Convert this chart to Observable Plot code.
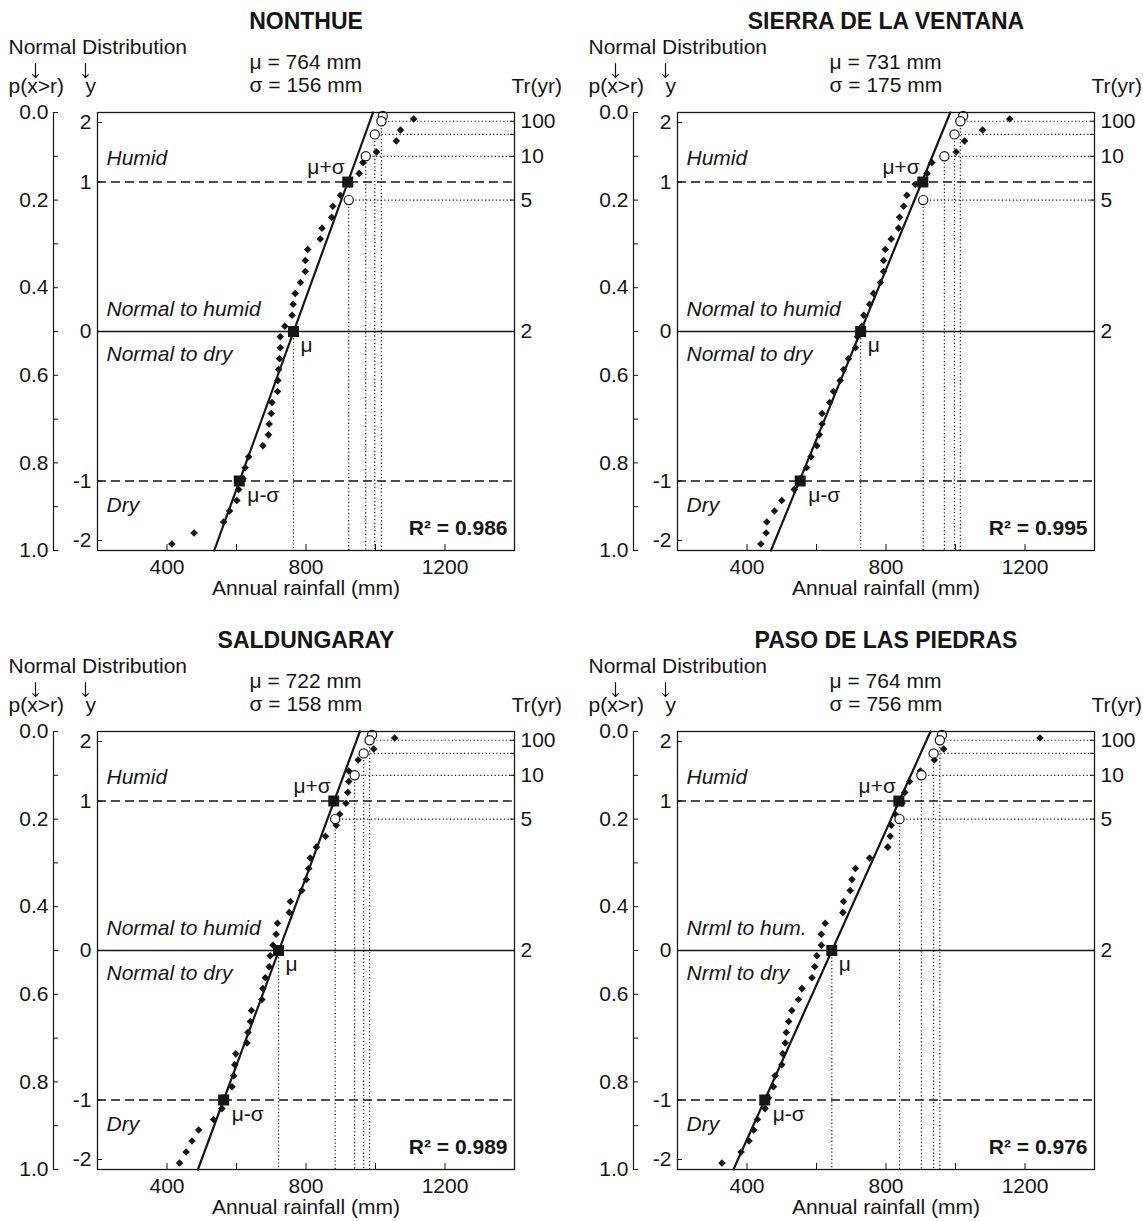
<!DOCTYPE html>
<html><head><meta charset="utf-8">
<script src="https://cdn.jsdelivr.net/npm/d3@7"></script>
<script src="https://cdn.jsdelivr.net/npm/@observablehq/plot@0.6"></script>
<style>
html,body{margin:0;padding:0;background:#fff;}
#wrap{position:relative;width:1143px;height:1221px;overflow:hidden;background:#fff;}
.panel{position:absolute;}
</style></head><body><div id="wrap"></div>
<script>
// ---------- data ----------
const stations = ["NONTHUE", "SIERRA DE LA VENTANA", "SALDUNGARAY", "PASO DE LAS PIEDRAS"];
const meanLabels = ["μ = 764 mm", "μ = 731 mm", "μ = 722 mm", "μ = 764 mm"];
const sdLabels = ["σ = 156 mm", "σ = 175 mm", "σ = 158 mm", "σ = 756 mm"];
const r2Labels = ["R² = 0.986", "R² = 0.995", "R² = 0.989", "R² = 0.976"];
const upperLabels = ["Normal to humid", "Normal to humid", "Normal to humid", "Nrml to hum."];
const lowerLabels = ["Normal to dry", "Normal to dry", "Normal to dry", "Nrml to dry"];

// observed annual rainfall (mm), ranked from wettest to driest
const rain1 = [1110,1072,1060,1003,964,953,926,899,877,874,846,841,805,798,798,784,769,763,760,739,726,726,724,721,719,718,702,700,694,692,676,635,625,619,606,601,580,563,478,414];
const rain2 = [1156,1078,1026,1002,932,918,884,860,851,839,836,815,798,793,793,784,764,753,736,731,718,712,692,678,668,649,638,616,616,608,601,584,571,553,536,500,479,457,455,440];
const rain3 = [1055,995,950,923,923,920,915,897,887,856,830,812,808,801,788,755,752,718,714,705,697,694,683,676,673,643,640,633,630,598,595,592,587,561,558,534,491,472,455,436];
const rain4 = [1243,966,939,899,868,854,846,827,815,812,805,753,712,702,697,678,676,625,614,614,601,595,587,558,548,529,520,513,510,503,500,481,476,462,452,430,419,406,383,328];
// exceedance probability of each ranked value
const plotP = [0.015,0.040,0.065,0.090,0.114,0.139,0.164,0.189,0.214,0.239,0.264,0.289,0.313,0.338,0.363,0.388,0.413,0.438,0.463,0.488,0.512,0.537,0.562,0.587,0.612,0.637,0.662,0.687,0.711,0.736,0.761,0.786,0.811,0.836,0.861,0.886,0.910,0.935,0.960,0.985];

// theoretical quantiles (open circles) at return-period levels
const circleP = [0.008, 0.02, 0.05, 0.1, 0.2];
const circ1 = [1021, 1017, 998, 972, 923];
const circ2 = [1022, 1014, 997, 968, 907];
const circ3 = [990, 983, 966, 940, 884];
const circ4 = [961, 955, 937, 902, 839];

// mu-sigma, mu, mu+sigma squares
const squareP = [0.8413, 0.5, 0.1587];
const sq1 = [608, 764, 920];
const sq2 = [553, 727, 906];
const sq3 = [563, 721, 880];
const sq4 = [451, 644, 837];
const squareLabels = ["μ-σ", "μ", "μ+σ"];

// fitted normal line: rainfall at p = 0 and p = 1
const fitP = [0, 1];
const fit1 = [993, 536];
const fit2 = [985, 469];
const fit3 = [955, 489];
const fit4 = [928, 361];

// axes
const xDomain = [200, 1400];
const xTicks = [400, 600, 800, 1000, 1200];
const xTickLabels = [400, 800, 1200];
const pTicksAll = [0, 0.1, 0.2, 0.3, 0.4, 0.5, 0.6, 0.7, 0.8, 0.9, 1.0];
const pTicksMajor = [0, 0.2, 0.4, 0.6, 0.8, 1.0];
const zTickP = [0.0228, 0.1587, 0.5, 0.8413, 0.9772];
const zTickLabels = ["2", "1", "0", "-1", "-2"];
const trTickP = [0.02, 0.05, 0.1, 0.2, 0.5];
const trTickLabels = ["100", "", "10", "5", "2"];

const rains = [rain1, rain2, rain3, rain4];
const circs = [circ1, circ2, circ3, circ4];
const sqs = [sq1, sq2, sq3, sq4];
const fits = [fit1, fit2, fit3, fit4];

// ---------- drawing ----------
const INK = "#151515";
const FONT = "'Liberation Sans', Arial, Helvetica, sans-serif";
const W = 563, H = 602;
const FL = 97, FR = 514, FT = 112, FB = 550;

function panel(i) {
  const pts = rains[i].map((x, k) => ({x, p: plotP[k]}));
  const circ = circs[i].map((x, k) => ({x, p: circleP[k]}));
  const sq = sqs[i].map((x, k) => ({x, p: squareP[k], t: squareLabels[k]}));
  const fit = fits[i].map((x, k) => ({x, p: fitP[k]}));
  const dotH = circ.slice(1).map(d => ({x1: d.x, x2: xDomain[1], p: d.p}));
  const dotV = circ.slice(1).map(d => ({x: d.x, p1: d.p, p2: 1}));
  dotV.push({x: sq[1].x, p1: sq[1].p, p2: 1});
  const zMap = new Map(zTickP.map((p, k) => [p, zTickLabels[k]]));
  const trMap = new Map(trTickP.map((p, k) => [p, trTickLabels[k]]));
  const txt = {fontSize: 21, fill: INK, lineAnchor: "middle"};
  const arrow = {frameAnchor: "top-left", length: 14, rotate: 180, anchor: "start", shape: "arrow", stroke: INK, strokeWidth: 1.2, dy: -49};

  return Plot.plot({
    width: W, height: H,
    marginLeft: FL, marginRight: W - FR, marginTop: FT, marginBottom: H - FB,
    x: {domain: xDomain},
    y: {domain: [0, 1], reverse: true},
    style: {fontFamily: FONT, fontSize: "21px", color: INK, background: "white", overflow: "visible"},
    marks: [
      // reference lines
      Plot.ruleY([squareP[0], squareP[2]], {stroke: INK, strokeWidth: 1.3, strokeDasharray: "9,5"}),
      Plot.ruleY([squareP[1]], {stroke: INK, strokeWidth: 1.3}),
      Plot.ruleY(dotH, {y: "p", x1: "x1", x2: "x2", stroke: INK, strokeWidth: 1.2, strokeDasharray: "1.2,2.4"}),
      Plot.ruleX(dotV, {x: "x", y1: "p1", y2: "p2", stroke: INK, strokeWidth: 1.2, strokeDasharray: "1.2,2.4"}),
      // fitted line
      Plot.line(fit, {x: "x", y: "p", stroke: INK, strokeWidth: 2.2}),
      // observations
      Plot.dot(pts, {x: "x", y: "p", symbol: "diamond2", r: 3.4, fill: INK, stroke: "none"}),
      Plot.dot(circ, {x: "x", y: "p", r: 4.6, fill: "white", stroke: INK, strokeWidth: 1.2}),
      Plot.dot(sq, {x: "x", y: "p", symbol: "square", r: 6.2, fill: INK, stroke: "none"}),
      // square labels
      Plot.text([sq[2]], {x: "x", y: "p", text: "t", textAnchor: "end", dx: -3, dy: -15, ...txt}),
      Plot.text([sq[1]], {x: "x", y: "p", text: "t", textAnchor: "start", dx: 7, dy: 14, ...txt}),
      Plot.text([sq[0]], {x: "x", y: "p", text: "t", textAnchor: "start", dx: 8, dy: 14, ...txt}),
      // class labels
      Plot.text([{t: "Humid", p: 0.104}, {t: upperLabels[i], p: 0.449}, {t: lowerLabels[i], p: 0.553}, {t: "Dry", p: 0.897}],
        {y: "p", text: "t", frameAnchor: "left", dx: 9, textAnchor: "start", fontStyle: "italic", ...txt}),
      Plot.text([r2Labels[i]], {frameAnchor: "bottom-right", dx: -7, dy: -22, textAnchor: "end", fontWeight: "bold", ...txt}),
      Plot.frame({stroke: INK, strokeWidth: 1.3}),
      // bottom axis (inward ticks)
      Plot.axisX(xTicks, {anchor: "bottom", tickSize: 6, dy: -6, tickFormat: () => "", label: null, stroke: INK}),
      Plot.axisX(xTickLabels, {anchor: "bottom", tickSize: 0, tickPadding: 9, tickFormat: d => String(d), label: null, fontSize: 21, fill: INK}),
      Plot.text(["Annual rainfall (mm)"], {frameAnchor: "bottom", dy: 38, ...txt}),
      // inner y (standard normal variate) axis
      Plot.axisY(zTickP, {anchor: "left", tickSize: 5, dx: 5, tickFormat: () => "", label: null, stroke: INK}),
      Plot.axisY(zTickP, {anchor: "left", tickSize: 0, tickPadding: 6, tickFormat: d => zMap.get(d), label: null, fontSize: 21, fill: INK}),
      // outer p(x>r) axis
      Plot.ruleX([xDomain[0]], {y1: 0, y2: 1, dx: -44, stroke: INK, strokeWidth: 1.2}),
      Plot.axisY(pTicksAll, {anchor: "left", tickSize: 5, dx: -39, tickFormat: () => "", label: null, stroke: INK}),
      Plot.axisY(pTicksMajor, {anchor: "left", tickSize: 0, dx: -39, tickPadding: 10, tickFormat: d => d.toFixed(1), label: null, fontSize: 21, fill: INK}),
      // right return-period axis
      Plot.axisY(trTickP, {anchor: "right", tickSize: 5, dx: -5, tickFormat: () => "", label: null, stroke: INK}),
      Plot.axisY(trTickP, {anchor: "right", tickSize: 0, tickPadding: 6, tickFormat: d => trMap.get(d), label: null, fontSize: 21, fill: INK}),
      // headers
      Plot.text([stations[i]], {frameAnchor: "top", dy: -91, fontWeight: "bold", ...txt, fontSize: 23}),
      Plot.text(["Normal Distribution"], {frameAnchor: "top-left", dx: -89, dy: -65, textAnchor: "start", ...txt}),
      Plot.vector([0], {...arrow, dx: -62}),
      Plot.vector([0], {...arrow, dx: -12}),
      Plot.text(["p(x>r)"], {frameAnchor: "top-left", dx: -89, dy: -26, textAnchor: "start", ...txt}),
      Plot.text(["y"], {frameAnchor: "top-left", dx: -12, dy: -26, ...txt}),
      Plot.text([meanLabels[i]], {frameAnchor: "top-left", dx: 152, dy: -50, textAnchor: "start", ...txt}),
      Plot.text([sdLabels[i]], {frameAnchor: "top-left", dx: 152, dy: -27, textAnchor: "start", ...txt}),
      Plot.text(["Tr(yr)"], {frameAnchor: "top-right", dx: -3, dy: -26, textAnchor: "start", ...txt})
    ]
  });
}

const offsets = [[0, 0], [580, 0], [0, 619], [580, 619]];
const wrap = document.getElementById("wrap");
offsets.forEach(([left, top], i) => {
  const div = document.createElement("div");
  div.className = "panel";
  div.style.left = left + "px";
  div.style.top = top + "px";
  div.appendChild(panel(i));
  wrap.appendChild(div);
});
</script>
</body></html>
